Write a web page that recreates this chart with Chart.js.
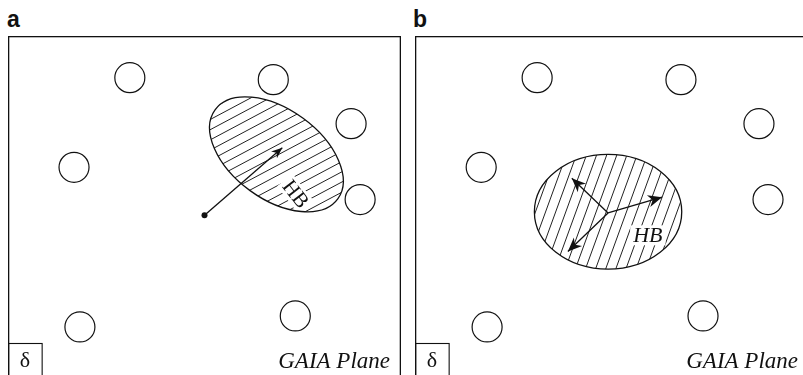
<!DOCTYPE html>
<html>
<head>
<meta charset="utf-8">
<script src="https://cdn.jsdelivr.net/npm/chart.js@4.4.0/dist/chart.umd.min.js"></script>
<style>
  html, body { margin: 0; padding: 0; background: #fff; width: 803px; height: 375px; overflow: hidden; position: relative; }
  .tag { position: absolute; top: 8px; font: bold 23px/22px "Liberation Sans", Arial, sans-serif; color: #111; }
  .panel { position: absolute; top: 36px; }
</style>
</head>
<body>
<div class="tag" style="left:7px">a</div>
<div class="tag" style="left:413px">b</div>
<div class="panel" style="left:8px"><canvas id="chartA" width="393" height="346"></canvas></div>
<div class="panel" style="left:415px"><canvas id="chartB" width="394" height="346"></canvas></div>
<script>
// alternatives in the GAIA plane (same in both panels)
const altX = [31.0, 67.5, 87.3, 16.8, 89.6, 18.3, 73.1];
const altY = [77.4, 76.9, 65.7, 54.6, 46.4, 14.0, 16.8];

// panel a: one weight vector, tilted HB region
const originA = [50.0, 42.4];
const tipsAX = [69.8];
const tipsAY = [59.6];
const hbCenterA = [68.3, 57.9];
const hbAxesA = [19.3, 11.4];
const hbTiltA = 36;
const hbLabelA = [73.2, 47.8];

// panel b: three weight vectors, round HB region
const originB = [49.0, 43.0];
const tipsBX = [39.8, 62.7, 38.8];
const tipsBY = [51.8, 47.0, 33.2];
const hbCenterB = [49.0, 43.3];
const hbAxesB = [18.7, 14.6];
const hbTiltB = 0;
const hbLabelB = [59.1, 37.3];

const SERIF = '"Liberation Serif", "Times New Roman", serif';
const INK = '#111';

function toPx(chart, x, y) {
    return [chart.scales.x.getPixelForValue(x), chart.scales.y.getPixelForValue(y)];
}

function arrowHead(ctx, x0, y0, x1, y1, len, half) {
    const a = Math.atan2(y1 - y0, x1 - x0);
    ctx.save();
    ctx.translate(x1, y1);
    ctx.rotate(a);
    ctx.beginPath();
    ctx.moveTo(0, 0);
    ctx.lineTo(-len, -half);
    ctx.lineTo(-len * 0.7, 0);
    ctx.lineTo(-len, half);
    ctx.closePath();
    ctx.fill();
    ctx.restore();
}

function makePanel(id, p) {
    const datasets = [];
    if (p.dot) {
        datasets.push({ data: [{ x: p.origin[0], y: p.origin[1] }], pointRadius: 3, pointBackgroundColor: INK, pointBorderWidth: 0 });
    }
    p.tipsX.forEach((tx, i) => {
        datasets.push({
            data: [{ x: p.origin[0], y: p.origin[1] }, { x: tx, y: p.tipsY[i] }],
            showLine: true, borderColor: INK, borderWidth: 1.3, pointRadius: 0
        });
    });
    datasets.push({
        data: altX.map((x, i) => ({ x: x, y: altY[i] })),
        pointRadius: 15, pointBackgroundColor: '#fff', pointBorderColor: INK, pointBorderWidth: 1.2
    });

    const regionPlugin = {
        id: 'region',
        beforeDatasetsDraw(chart) {
            const ctx = chart.ctx;
            const [cx, cy] = toPx(chart, p.center[0], p.center[1]);
            const rx = Math.abs(chart.scales.x.getPixelForValue(p.center[0] + p.axes[0]) - cx);
            const ry = Math.abs(chart.scales.y.getPixelForValue(p.center[1] + p.axes[1]) - cy);
            const rot = p.tilt * Math.PI / 180;
            const [lx, ly] = toPx(chart, p.label[0], p.label[1]);
            ctx.save();
            ctx.beginPath();
            ctx.ellipse(cx, cy, rx, ry, rot, 0, 2 * Math.PI);
            ctx.save();
            ctx.clip();
            // hatching
            const ang = p.hatchAngle * Math.PI / 180;
            const dx = Math.cos(ang), dy = -Math.sin(ang);
            const nx = Math.sin(ang), ny = Math.cos(ang);
            const R = Math.max(rx, ry) + 4;
            ctx.beginPath();
            for (let s = -R + p.hatchOffset; s <= R; s += p.hatchStep) {
                const bx = cx + nx * s, by = cy + ny * s;
                ctx.moveTo(bx - dx * R, by - dy * R);
                ctx.lineTo(bx + dx * R, by + dy * R);
            }
            ctx.strokeStyle = '#222';
            ctx.lineWidth = 1;
            ctx.stroke();
            // white patch under the HB label, kept inside the region
            ctx.translate(lx, ly);
            ctx.rotate(p.labelRot * Math.PI / 180);
            ctx.font = p.labelFont;
            const w = ctx.measureText('HB').width;
            ctx.fillStyle = '#fff';
            ctx.fillRect(-w / 2 - 3, -10, w + 6, 20);
            ctx.restore();

            ctx.beginPath();
            ctx.ellipse(cx, cy, rx, ry, rot, 0, 2 * Math.PI);
            ctx.strokeStyle = INK;
            ctx.lineWidth = 1.3;
            ctx.stroke();

            ctx.translate(lx, ly);
            ctx.rotate(p.labelRot * Math.PI / 180);
            ctx.font = p.labelFont;
            ctx.fillStyle = INK;
            ctx.textAlign = 'center';
            ctx.textBaseline = 'middle';
            ctx.fillText('HB', 0, 1);
            ctx.restore();
        },
        afterDatasetsDraw(chart) {
            const ctx = chart.ctx;
            const area = chart.chartArea;
            ctx.save();
            ctx.fillStyle = INK;
            const [ox, oy] = toPx(chart, p.origin[0], p.origin[1]);
            p.tipsX.forEach((tx, i) => {
                const [x1, y1] = toPx(chart, tx, p.tipsY[i]);
                arrowHead(ctx, ox, oy, x1, y1, p.headLen, p.headHalf);
            });

            // frame
            ctx.strokeStyle = INK;
            ctx.lineWidth = 1.3;
            ctx.strokeRect(area.left + 0.65, area.top + 0.65, area.right - area.left - 1.3, area.bottom - area.top + 20);

            // delta box
            ctx.lineWidth = 1.1;
            ctx.strokeRect(area.left + 0.65, area.top + 307.5, 33.5, 60);
            ctx.font = '22px ' + SERIF;
            ctx.textAlign = 'center';
            ctx.textBaseline = 'alphabetic';
            ctx.fillText('\u03B4', area.left + 17, area.top + 331);

            // plane name
            ctx.font = 'italic 23px ' + SERIF;
            ctx.textAlign = 'right';
            ctx.fillText('GAIA Plane', area.right - 11, area.top + 332);
            ctx.restore();
        }
    };

    return new Chart(document.getElementById(id), {
        type: 'scatter',
        data: { datasets: datasets },
        options: {
            responsive: false,
            animation: false,
            devicePixelRatio: 1,
            events: [],
            layout: { padding: 0, autoPadding: false },
            plugins: { legend: { display: false }, tooltip: { enabled: false } },
            scales: {
                x: { type: 'linear', min: 0, max: 100, display: false },
                y: { type: 'linear', min: 0, max: 88, display: false }
            }
        },
        plugins: [regionPlugin]
    });
}

makePanel('chartA', {
    origin: originA, tipsX: tipsAX, tipsY: tipsAY, dot: true,
    center: hbCenterA, axes: hbAxesA, tilt: hbTiltA,
    hatchAngle: 28, hatchStep: 9, hatchOffset: 0,
    label: hbLabelA, labelRot: 52, labelFont: '21px ' + SERIF,
    headLen: 11, headHalf: 4.5
});

makePanel('chartB', {
    origin: originB, tipsX: tipsBX, tipsY: tipsBY, dot: false,
    center: hbCenterB, axes: hbAxesB, tilt: hbTiltB,
    hatchAngle: 70, hatchStep: 9.5, hatchOffset: 0,
    label: hbLabelB, labelRot: 0, labelFont: 'italic 22px ' + SERIF,
    headLen: 14, headHalf: 6
});
</script>
</body>
</html>
